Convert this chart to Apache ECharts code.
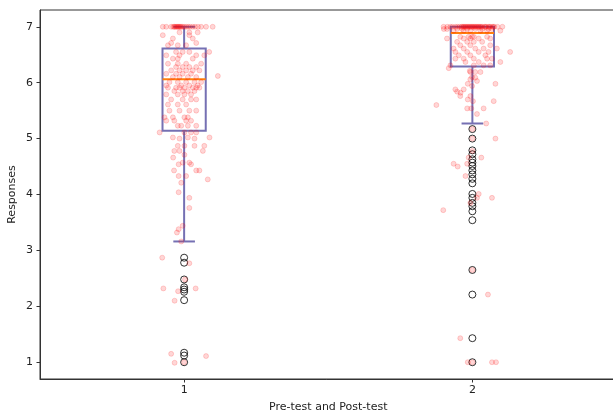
<!DOCTYPE html>
<html>
<head>
<meta charset="utf-8">
<script src="https://cdn.jsdelivr.net/npm/echarts@6/dist/echarts.min.js"></script>
<style>html,body{margin:0;padding:0;background:#fff;}#chart{width:613px;height:413px;}</style>
</head>
<body>
<div id="chart"></div>
<script>
// ---- data ----
const positions = [1, 2];
const xTicks = [1, 2];
const yTicks = [1, 2, 3, 4, 5, 6, 7];
const whiskerLow = [3.16, 5.27];
const q1 = [5.14, 6.29];
const median = [6.06, 6.89];
const q3 = [6.61, 7.0];
const whiskerHigh = [7.0, 7.0];
const fliersPre = [2.87, 2.78, 2.48, 2.34, 2.30, 2.26, 2.11, 1.17, 1.12, 1.0];
const fliersPost = [5.17, 5.0, 4.79, 4.72, 4.63, 4.57, 4.51, 4.43, 4.36, 4.28, 4.20, 4.01, 3.94, 3.85, 3.79, 3.70, 3.54, 2.65, 2.21, 1.43, 1.0];

// jittered responses [x, y]
const pointsPre = [
[0.926,7],[0.938,7],[0.955,7],[0.962,7],[0.966,7],[0.972,7],[0.978,7],[0.984,7],[0.990,7],[0.995,7],[1.0,7],[1.007,7],[1.014,7],[1.021,7],[1.030,7],[1.038,7],[1.048,7],[1.059,7],[1.076,7],[1.099,7],[0.968,7],[0.975,7],[0.981,7],[0.987,7],
[0.984,6.9],[1.018,6.9],[1.047,6.9],[0.926,6.85],[1.018,6.85],[0.961,6.79],[1.030,6.79],[0.955,6.71],[1.042,6.71],[0.944,6.67],[0.978,6.67],[1.007,6.67],
[0.972,6.55],[0.995,6.55],[1.018,6.55],[1.087,6.55],[0.938,6.49],[0.984,6.49],[1.042,6.49],[1.070,6.49],[0.961,6.43],[0.978,6.43],[1.030,6.43],
[0.944,6.34],[0.978,6.34],[1.007,6.34],[1.059,6.34],[0.972,6.28],[0.995,6.28],[1.018,6.28],[1.042,6.28],[0.955,6.22],[0.984,6.22],[1.007,6.22],[1.030,6.22],[1.053,6.22],
[0.938,6.16],[0.972,6.16],[0.995,6.16],[1.024,6.16],[1.117,6.12],[0.961,6.10],[0.984,6.10],[1.013,6.10],[1.042,6.10],
[0.949,6.01],[0.978,6.01],[1.007,6.01],[1.036,6.01],[1.059,6.01],[0.938,5.95],[0.990,5.95],[1.018,5.95],[1.047,5.95],
[0.944,5.91],[0.972,5.91],[0.984,5.91],[1.001,5.91],[1.030,5.91],[1.042,5.91],[1.053,5.91],[0.966,5.85],[0.995,5.85],[1.013,5.85],[1.036,5.85],
[0.938,5.79],[0.978,5.79],[1.001,5.79],[1.024,5.79],[0.955,5.70],[0.995,5.70],[1.024,5.70],[1.042,5.70],[0.944,5.61],[0.978,5.61],[1.007,5.61],
[0.949,5.50],[0.984,5.50],[1.018,5.50],[1.042,5.50],[0.932,5.38],[0.961,5.38],[1.001,5.38],[1.013,5.38],[0.938,5.32],[0.966,5.32],[1.007,5.32],[1.024,5.32],
[0.978,5.23],[0.990,5.23],[1.013,5.23],[1.042,5.23],[0.915,5.11],[1.001,5.11],[1.024,5.11],[1.042,5.11],[0.961,5.02],[1.013,5.02],[1.088,5.02],[0.984,5.0],[1.036,5.0],
[0.978,4.87],[1.001,4.87],[1.036,4.87],[1.070,4.87],[0.966,4.78],[0.984,4.78],[1.065,4.78],[1.001,4.71],[0.962,4.66],[0.995,4.57],[1.018,4.57],[0.981,4.54],[1.024,4.54],
[0.965,4.43],[1.042,4.43],[1.053,4.43],[0.981,4.33],[1.007,4.33],[1.082,4.27],[0.990,4.21],[0.981,4.04],[1.018,3.94],[1.018,3.76],
[0.995,3.44],[0.981,3.38],[0.975,3.32],[0.990,3.16],[0.924,2.87],[1.018,2.77],[1.003,2.48],[0.928,2.32],[1.040,2.32],[0.979,2.27],[0.967,2.10],
[0.955,1.15],[1.076,1.11],[0.967,0.99],[1.0,1.0]
];
const pointsPost = [
[1.900,7],[1.913,7],[1.924,7],[1.931,7],[1.941,7],[1.948,7],[1.955,7],[1.962,7],[1.965,7],[1.972,7],[1.976,7],[1.983,7],[1.986,7],[1.993,7],[1.997,7],[2.003,7],[2.007,7],[2.014,7],[2.017,7],[2.024,7],[2.028,7],[2.035,7],[2.042,7],[2.048,7],[2.055,7],[2.062,7],[2.069,7],[2.076,7],[2.087,7],[2.104,7],
[1.969,7],[1.979,7],[1.990,7],[2.0,7],[2.010,7],[2.021,7],[2.031,7],[2.045,7],[2.059,7],[2.073,7],
[1.901,6.96],[1.912,6.96],[1.947,6.96],[1.964,6.96],[1.982,6.96],[2.010,6.96],[2.034,6.96],[2.056,6.96],[2.068,6.96],
[1.935,6.93],[1.970,6.93],[1.993,6.93],[2.028,6.93],[2.051,6.93],[2.097,6.93],
[1.958,6.82],[1.987,6.82],[1.999,6.82],[2.005,6.82],[2.051,6.82],[1.912,6.79],[1.970,6.79],[1.993,6.79],[2.022,6.79],[2.062,6.79],
[1.947,6.73],[1.982,6.73],[2.005,6.73],[2.034,6.73],[1.958,6.67],[1.993,6.67],[2.062,6.67],
[1.935,6.61],[1.970,6.61],[2.010,6.61],[2.039,6.61],[2.085,6.61],[1.941,6.55],[1.982,6.55],[2.022,6.55],[2.056,6.55],[2.131,6.55],
[1.953,6.49],[1.993,6.49],[2.045,6.49],[1.941,6.43],[1.970,6.43],[2.005,6.43],[2.051,6.43],[2.068,6.43],
[1.976,6.37],[2.022,6.37],[2.097,6.37],[1.924,6.31],[2.005,6.31],[2.039,6.31],[2.062,6.31],[1.918,6.26],
[1.991,6.21],[1.993,6.19],[2.010,6.19],[2.028,6.19],[1.999,6.10],[2.010,6.09],[1.993,6.06],[2.016,6.03],[1.984,5.98],[2.080,5.98],[1.999,5.94],
[1.941,5.88],[1.970,5.88],[1.947,5.84],[1.959,5.82],[1.958,5.76],[1.993,5.76],[1.984,5.70],[2.074,5.67],[2.002,5.67],[1.875,5.60],
[1.982,5.54],[1.996,5.54],[2.039,5.54],[2.016,5.44],[2.048,5.27],[2.0,5.17],[2.080,5.0],[2.0,5.0],[2.0,4.78],
[1.987,4.66],[2.031,4.66],[1.935,4.55],[1.982,4.55],[1.949,4.50],[1.976,4.33],[2.022,4.01],[2.068,3.94],[2.016,3.94],[1.993,3.85],[1.899,3.72],
[2.0,2.65],[2.054,2.21],[1.958,1.43],[1.984,1.0],[2.068,1.0],[2.082,1.0],[2.0,1.0]
];

// ---- chart ----
const boxData = positions.map((p, i) => [p, whiskerLow[i], q1[i], median[i], q3[i], whiskerHigh[i]]);
const flierData = fliersPre.map(v => [1, v]).concat(fliersPost.map(v => [2, v]));
const BOX_W = 0.15;
const boxColor = '#7570b3';

const chart = echarts.init(document.getElementById('chart'), null, {renderer: 'canvas'});
const font = 'DejaVu Sans';
chart.setOption({
  animation: false,
  backgroundColor: '#fff',
  grid: {left: 40, right: -3.5, top: 10, bottom: 34, containLabel: false, outerBoundsMode: 'none',
         show: true, borderColor: '#333', borderWidth: 1, backgroundColor: 'transparent'},
  xAxis: {
    type: 'value', min: 0.5, max: 2.5,
    name: 'Pre-test and Post-test', nameLocation: 'middle', nameGap: 23, nameMoveOverlap: false,
    nameTextStyle: {fontFamily: font, fontSize: 11, color: '#222'},
    axisLine: {show: true, onZero: false, lineStyle: {color: '#333', width: 1}},
    axisTick: {show: true, length: 3.5, customValues: xTicks, lineStyle: {color: '#333'}},
    axisLabel: {customValues: xTicks, margin: 6, fontFamily: font, fontSize: 11, color: '#222'},
    splitLine: {show: false}
  },
  yAxis: {
    type: 'value', min: 0.7, max: 7.3,
    name: 'Responses', nameLocation: 'middle', nameGap: 22, nameRotate: 90, nameMoveOverlap: false,
    nameTextStyle: {fontFamily: font, fontSize: 11, color: '#222'},
    axisLine: {show: true, onZero: false, lineStyle: {color: '#333', width: 1}},
    axisTick: {show: true, length: 3.5, customValues: yTicks, lineStyle: {color: '#333'}},
    axisLabel: {customValues: yTicks, margin: 7, fontFamily: font, fontSize: 11, color: '#222'},
    splitLine: {show: false}
  },
  series: [
    {
      type: 'custom', data: boxData, z: 2, silent: true,
      renderItem: function (params, api) {
        const x = api.value(0);
        const lo = api.coord([x, api.value(1)]);
        const b1 = api.coord([x, api.value(2)]);
        const md = api.coord([x, api.value(3)]);
        const b3 = api.coord([x, api.value(4)]);
        const hi = api.coord([x, api.value(5)]);
        const w = api.size([BOX_W, 0])[0];
        const cw = w / 2;
        const ls = {stroke: boxColor, lineWidth: 2, fill: null};
        return {
          type: 'group',
          children: [
            {type: 'line', shape: {x1: lo[0], y1: lo[1], x2: b1[0], y2: b1[1]}, style: ls},
            {type: 'line', shape: {x1: b3[0], y1: b3[1], x2: hi[0], y2: hi[1]}, style: ls},
            {type: 'line', shape: {x1: lo[0] - cw / 2, y1: lo[1], x2: lo[0] + cw / 2, y2: lo[1]}, style: ls},
            {type: 'line', shape: {x1: hi[0] - cw / 2, y1: hi[1], x2: hi[0] + cw / 2, y2: hi[1]}, style: ls},
            {type: 'rect', shape: {x: b1[0] - w / 2, y: b3[1], width: w, height: b1[1] - b3[1]}, style: ls},
            {type: 'line', shape: {x1: md[0] - w / 2, y1: md[1], x2: md[0] + w / 2, y2: md[1]}, style: {stroke: '#ff7f0e', lineWidth: 2}}
          ]
        };
      }
    },
    {
      type: 'scatter', data: flierData, z: 3, silent: true,
      symbol: 'circle', symbolSize: 7,
      itemStyle: {color: 'rgba(0,0,0,0)', borderColor: '#000', borderWidth: 1}
    },
    {
      type: 'scatter', data: pointsPre.concat(pointsPost), z: 4, silent: true,
      symbol: 'circle', symbolSize: 5,
      itemStyle: {color: 'rgba(255,0,0,0.2)', borderColor: 'rgba(255,0,0,0.2)', borderWidth: 1}
    }
  ]
});
</script>
</body>
</html>
